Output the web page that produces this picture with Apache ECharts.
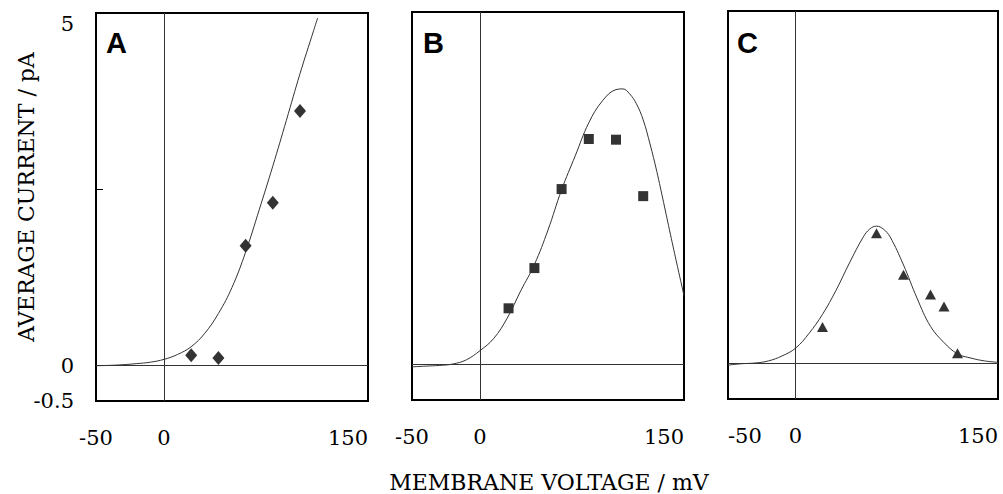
<!DOCTYPE html>
<html>
<head>
<meta charset="utf-8">
<title>Average current vs membrane voltage</title>
<script src="https://cdn.jsdelivr.net/npm/echarts@6/dist/echarts.min.js"></script>
<style>
  html, body { margin: 0; padding: 0; background: #fff; }
  #chart { width: 1003px; height: 494px; }
</style>
</head>
<body>
<div id="chart"></div>
<script>
// Panel letters and axis tick values
const panelNames = ['A', 'B', 'C'];
const xTickLabels = [-50, 0, 150];
const yTickLabels = [-0.5, 0, 5];
const yMinorTicks = [2.5];

// Panel A: measured points (mV, pA) and fitted curve
const voltA = [20, 40, 60, 80, 100];
const currA = [0.15, 0.11, 1.70, 2.31, 3.61];
const fitVoltA = [-50, -40, -30, -20, -10, 0, 10, 20, 30, 40, 50, 60, 70, 80, 90, 100, 110, 113];
const fitCurrA = [0.0, 0.005, 0.015, 0.03, 0.05, 0.09, 0.16, 0.27, 0.46, 0.74, 1.11, 1.61, 2.21, 2.83, 3.48, 4.14, 4.75, 4.93];

// Panel B
const voltB = [21, 40, 60, 80, 100, 120];
const currB = [0.80, 1.37, 2.49, 3.20, 3.19, 2.39];
const fitVoltB = [-50, -40, -30, -20, -10, 0, 10, 20, 30, 40, 50, 60, 70, 80, 90, 100, 105, 110, 115, 120, 125, 130, 135, 140, 145, 150];
const fitCurrB = [-0.03, -0.02, -0.01, 0.01, 0.07, 0.20, 0.37, 0.66, 1.05, 1.42, 1.91, 2.48, 2.96, 3.43, 3.74, 3.90, 3.91, 3.84, 3.70, 3.47, 3.13, 2.74, 2.30, 1.85, 1.41, 0.98];

// Panel C
const voltC = [20, 60, 80, 100, 110, 120];
const currC = [0.52, 1.85, 1.26, 0.98, 0.81, 0.15];
const fitVoltC = [-50, -40, -30, -20, -10, 0, 10, 20, 30, 40, 50, 55, 60, 65, 70, 80, 90, 100, 110, 120, 130, 140, 150];
const fitCurrC = [-0.02, 0.0, 0.01, 0.04, 0.11, 0.22, 0.43, 0.70, 1.04, 1.43, 1.79, 1.91, 1.95, 1.91, 1.80, 1.40, 0.93, 0.53, 0.30, 0.14, 0.08, 0.04, 0.02];

const zip = (xs, ys) => xs.map((x, i) => [x, ys[i]]);

const panels = [
  { pts: zip(voltA, currA), fit: zip(fitVoltA, fitCurrA), symbol: 'diamond', size: [12, 14] },
  { pts: zip(voltB, currB), fit: zip(fitVoltB, fitCurrB), symbol: 'rect', size: 10 },
  { pts: zip(voltC, currC), fit: zip(fitVoltC, fitCurrC), symbol: 'triangle', size: [11, 10] }
];

const serif = 'DejaVu Serif';
const grids = [
  { left: 96, top: 13, width: 272, height: 388 },
  { left: 412, top: 12, width: 272, height: 388 },
  { left: 728, top: 11, width: 270, height: 388 }
];

const option = {
  animation: false,
  grid: grids.map(g => Object.assign({ show: true, borderColor: '#000', borderWidth: 2, backgroundColor: 'transparent' }, g)),
  xAxis: grids.map((g, i) => ({
    type: 'value', gridIndex: i, min: -50, max: 150,
    axisLine: { show: false, onZero: false }, axisTick: { show: false }, splitLine: { show: false },
    axisLabel: {
      customValues: xTickLabels, fontFamily: serif, fontSize: 21, color: '#000',
      margin: 26, alignMaxLabel: 'right', alignMinLabel: i === 2 ? 'left' : 'center'
    }
  })),
  yAxis: grids.map((g, i) => ({
    type: 'value', gridIndex: i, min: -0.5, max: 5,
    axisLine: { show: false, onZero: false }, splitLine: { show: false },
    axisTick: i === 0
      ? { show: true, inside: true, length: 7, customValues: yMinorTicks, lineStyle: { color: '#000', width: 1 } }
      : { show: false },
    axisLabel: i === 0
      ? { customValues: yTickLabels, fontFamily: serif, fontSize: 21, color: '#000', margin: 22, verticalAlignMaxLabel: 'top' }
      : { show: false }
  })),
  series: panels.flatMap((p, i) => [
    {
      type: 'line', xAxisIndex: i, yAxisIndex: i, data: p.fit,
      smooth: 0.4, showSymbol: false, silent: true,
      lineStyle: { color: '#333', width: 1 },
      markLine: {
        silent: true, symbol: 'none', label: { show: false },
        lineStyle: { color: '#333', width: 1, type: 'solid' },
        data: [{ xAxis: 0 }, { yAxis: 0 }]
      }
    },
    {
      type: 'scatter', xAxisIndex: i, yAxisIndex: i, data: p.pts,
      symbol: p.symbol, symbolSize: p.size,
      itemStyle: { color: '#000' }
    }
  ]),
  graphic: [
    ...panelNames.map((name, i) => ({
      type: 'text', x: [106, 423, 737][i], y: 43,
      style: { text: name, fontFamily: 'Liberation Sans', fontWeight: 'bold', fontSize: 29, fill: '#000', textAlign: 'left', textVerticalAlign: 'middle' }
    })),
    {
      type: 'text', x: 26, y: 197, rotation: Math.PI / 2,
      style: { text: 'AVERAGE CURRENT / pA', fontFamily: serif, fontSize: 22, fill: '#000', textAlign: 'center', textVerticalAlign: 'middle' }
    },
    {
      type: 'text', x: 549, y: 482,
      style: { text: 'MEMBRANE VOLTAGE / mV', fontFamily: serif, fontSize: 22, fill: '#000', textAlign: 'center', textVerticalAlign: 'middle' }
    }
  ]
};

const chart = echarts.init(document.getElementById('chart'), null, { renderer: 'svg' });
chart.setOption(option);
</script>
</body>
</html>
